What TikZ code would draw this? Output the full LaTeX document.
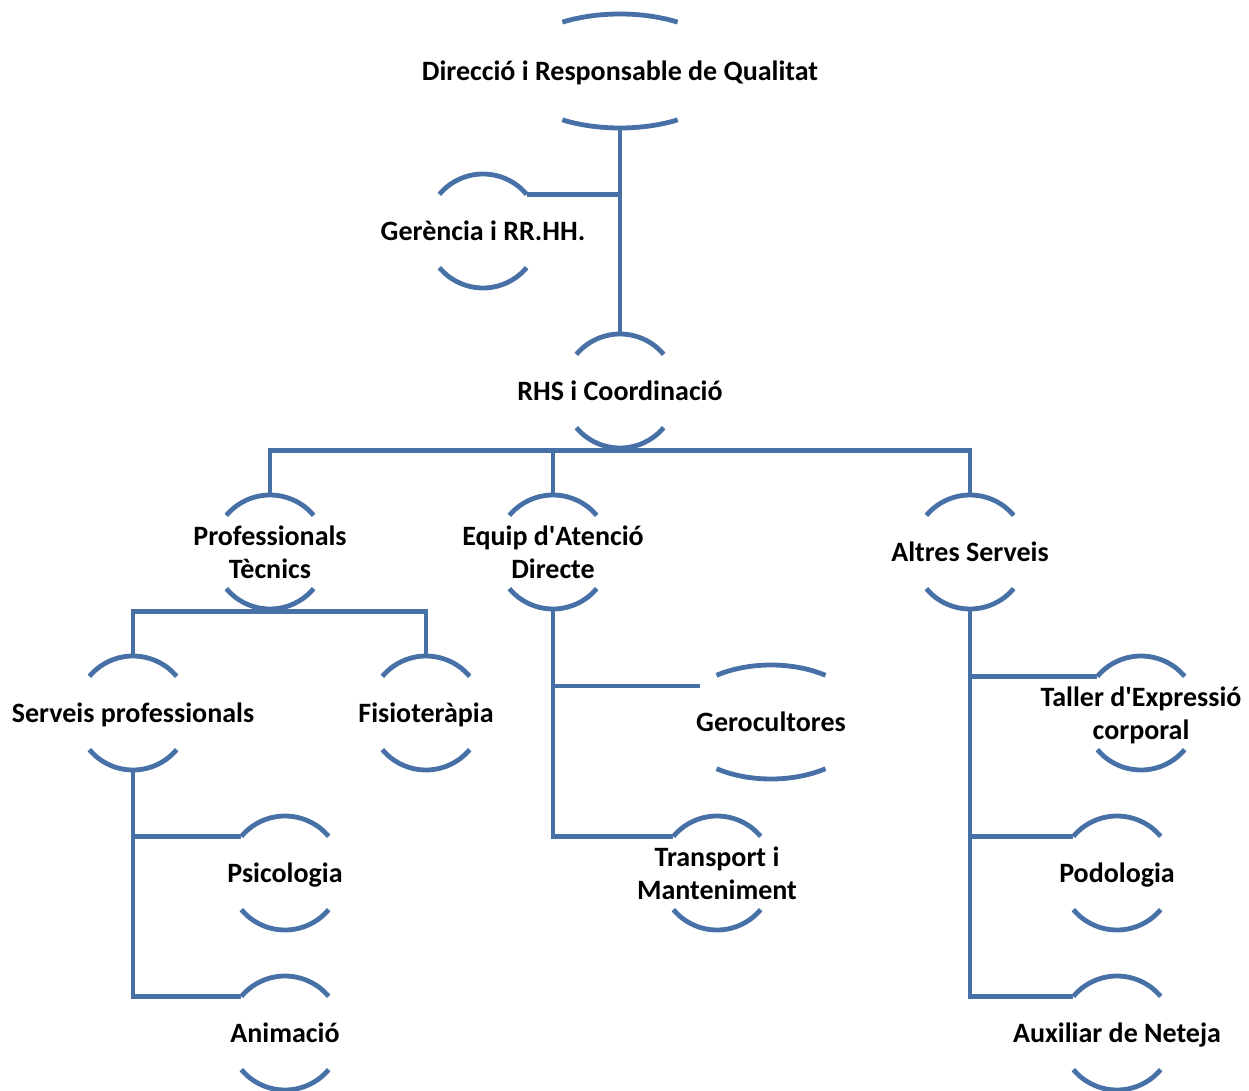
\documentclass[tikz,border=0pt]{standalone}
\usepackage{fontspec}
\setmainfont{Carlito}
\usetikzlibrary{calc,shapes.geometric}
\definecolor{lineblue}{RGB}{70,112,166}
\newcommand{\ctext}[1]{\makebox[0pt]{\raisebox{-3pt}[\height][\depth]{\begin{tabular}{@{}c@{}}#1\end{tabular}}}}
\newcommand{\circarcs}[1]{%
  \draw[arcline] ([shift={(40:57)}]#1.center) arc[start angle=40,end angle=140,radius=57];
  \draw[arcline] ([shift={(220:57)}]#1.center) arc[start angle=220,end angle=320,radius=57];}
\newcommand{\ellarcs}[3]{%
  \draw[arcline] ([shift={(#3:#2 and 57)}]#1.center) arc[start angle=#3,end angle=180-#3,x radius=#2,y radius=57];
  \draw[arcline] ([shift={(180+#3:#2 and 57)}]#1.center) arc[start angle=180+#3,end angle=360-#3,x radius=#2,y radius=57];}
\begin{document}
\begin{tikzpicture}[x=1pt,y=1pt,
  lbl/.style={font=\fontsize{28}{33}\selectfont\bfseries, text=black},
  unit/.style={lbl, circle, minimum size=114pt, inner sep=0pt},
  wideunit/.style={lbl, ellipse, minimum width=#1, minimum height=114pt, inner sep=0pt},
  conn/.style={draw=lineblue, line width=4.8pt},
  arcline/.style={draw=lineblue, line width=4.8pt}]
\useasboundingbox (0,0) rectangle (1249,-1091);

\node[wideunit=224pt] (top) at (620,-71) {\ctext{Direcció i Responsable de Qualitat}};
\node[unit] (ger) at (483,-231) {\ctext{Gerència i RR.HH.}};
\node[unit] (rhs) at (620,-391) {\ctext{RHS i Coordinació}};
\node[unit] (pro) at (270,-552) {\ctext{Professionals\\Tècnics}};
\node[unit] (equ) at (553,-552) {\ctext{Equip d\textquotesingle Atenció\\Directe}};
\node[unit] (alt) at (970,-552) {\ctext{Altres Serveis}};
\node[unit] (ser) at (133,-713) {\ctext{Serveis professionals}};
\node[unit] (fis) at (426,-713) {\ctext{Fisioteràpia}};
\node[wideunit=190pt] (gero) at (771,-722) {\ctext{Gerocultores}};
\node[unit] (tra) at (717,-873) {\ctext{Transport i\\Manteniment}};
\node[unit] (tal) at (1141,-713) {\ctext{Taller d\textquotesingle Expressió\\corporal}};
\node[unit] (psi) at (285,-873) {\ctext{Psicologia}};
\node[unit] (ani) at (285,-1033) {\ctext{Animació}};
\node[unit] (pod) at (1117,-873) {\ctext{Podologia}};
\node[unit] (aux) at (1117,-1033) {\ctext{Auxiliar de Neteja}};

\ellarcs{top}{112}{59}
\ellarcs{gero}{95}{55}
\foreach \n in {ger,rhs,pro,equ,alt,ser,fis,tra,tal,psi,ani,pod,aux}{\circarcs{\n}}

\draw[conn] (top.south) -- (rhs.north);
\draw[conn] (ger.40) -- (ger.40 -| top.south);

\coordinate (b1) at ($(rhs.south)+(0,-2)$);
\draw[conn] (rhs.south) -- (b1);
\draw[conn] (pro.north) |- (b1) -| (alt.north);
\draw[conn] (equ.north) -- (equ.north |- b1);

\coordinate (b2) at ($(pro.south)+(0,-2)$);
\draw[conn] (pro.south) -- (b2);
\draw[conn] (ser.north) |- (b2) -| (fis.north);

\draw[conn] (ser.south) |- (psi.140);
\draw[conn] (ser.south) |- (ani.140);

\coordinate (geroin) at ($(gero.center)+(-71,36)$);
\draw[conn] (equ.south) |- (geroin);
\draw[conn] (equ.south) |- (tra.140);

\draw[conn] (alt.south) |- (tal.140);
\draw[conn] (alt.south) |- (pod.140);
\draw[conn] (alt.south) |- (aux.140);
\end{tikzpicture}
\end{document}
